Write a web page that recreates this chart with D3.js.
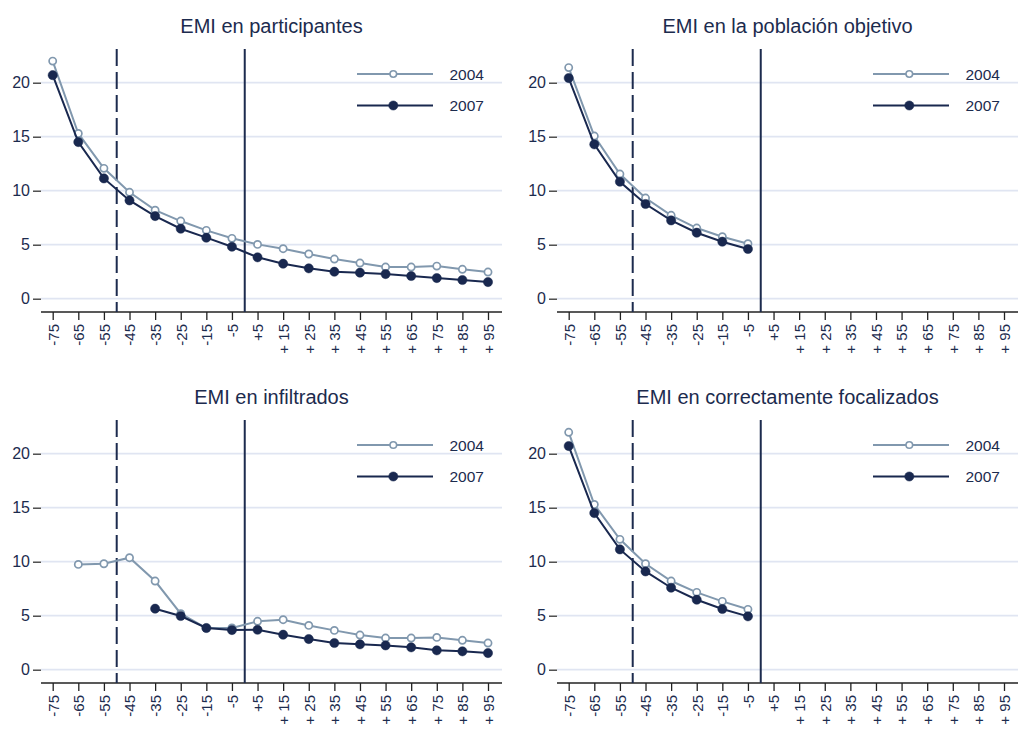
<!DOCTYPE html>
<html>
<head>
<meta charset="utf-8">
<script src="https://cdn.jsdelivr.net/npm/d3@7"></script>
<style>
  body { margin: 0; background: #fff; }
  svg { display: block; font-family: "Liberation Sans", Arial, sans-serif; }
</style>
</head>
<body>
<div class="chart"></div>
<script>
const WIDTH = 1018;
const HEIGHT = 742;

// x categories: distance to threshold
var offsets = [-75, -65, -55, -45, -35, -25, -15, -5, 5, 15, 25, 35, 45, 55, 65, 75, 85, 95];
var yTicks = [0, 5, 10, 15, 20];
var years = ["2004", "2007"];
var titles = ["EMI en participantes", "EMI en la población objetivo", "EMI en infiltrados", "EMI en correctamente focalizados"];
var cutDashed = -50;
var cutSolid = 0;

var part04 = [22.0, 15.3, 12.07, 9.85, 8.2, 7.19, 6.33, 5.59, 5.03, 4.63, 4.14, 3.67, 3.3, 2.93, 2.93, 3.02, 2.72, 2.47];
var part07 = [20.7, 14.5, 11.14, 9.1, 7.65, 6.48, 5.65, 4.81, 3.83, 3.24, 2.81, 2.5, 2.41, 2.28, 2.1, 1.91, 1.73, 1.54];
var pob04 = [21.4, 15.06, 11.54, 9.32, 7.72, 6.54, 5.74, 5.09];
var pob07 = [20.43, 14.29, 10.83, 8.77, 7.25, 6.11, 5.28, 4.6];
var inf04 = [null, 9.75, 9.81, 10.37, 8.21, 5.19, 3.86, 3.86, 4.48, 4.63, 4.1, 3.64, 3.21, 2.93, 2.93, 2.99, 2.72, 2.47];
var inf07 = [null, null, null, null, 5.65, 4.97, 3.86, 3.67, 3.7, 3.24, 2.84, 2.47, 2.35, 2.25, 2.07, 1.79, 1.7, 1.54];
var foc04 = [21.98, 15.3, 12.07, 9.81, 8.21, 7.16, 6.33, 5.59];
var foc07 = [20.71, 14.5, 11.14, 9.1, 7.59, 6.48, 5.62, 4.94];

var panels = [
    { title: titles[0], s04: part04, s07: part07, ox: 0, oy: 0 },
    { title: titles[1], s04: pob04, s07: pob07, ox: 516, oy: 0 },
    { title: titles[2], s04: inf04, s07: inf07, ox: 0, oy: 371 },
    { title: titles[3], s04: foc04, s07: foc07, ox: 516, oy: 371 }
];

var C04 = "#8198ae";
var C07 = "#19284f";
var NAVY = "#1c2b4e";
var GRID = "#e0e5f2";
var FONT = "'Liberation Sans', Arial, sans-serif";

var translate = function (x, y) {
    return "translate(" + x + "," + y + ")";
};

var tickLabel = function (d) {
    if (d < 0) return String(d);
    return d < 10 ? "+" + d : "+ " + d;
};

var svg = d3.select('.chart').append('svg')
    .attr('width', WIDTH)
    .attr('height', HEIGHT);

var drawPanel = function (p) {
    var g = svg.append("g").attr("transform", translate(p.ox, p.oy));

    var x = d3.scaleLinear().domain([-75, 95]).range([52.7, 488]);
    var y = d3.scaleLinear().domain([0, 20]).range([298.7, 82.7]);
    var left = 41, right = 502, top = 49, bottom = 312;

    // title
    g.append("text")
        .attr("x", (left + right) / 2)
        .attr("y", 33)
        .attr("text-anchor", "middle")
        .style("font-size", "20px")
        .style("fill", NAVY)
        .text(p.title);

    // gridlines
    g.selectAll(".grid").data(yTicks).enter().append("line")
        .attr("x1", left).attr("x2", right)
        .attr("y1", function (d) { return y(d); })
        .attr("y2", function (d) { return y(d); })
        .style("stroke", GRID).style("stroke-width", 1.8);

    // y axis (ticks only)
    var ya = g.append("g").attr("transform", translate(left, 0))
        .call(d3.axisLeft(y).tickValues(yTicks).tickSize(8).tickPadding(3));
    ya.select(".domain").remove();
    ya.selectAll(".tick line").style("stroke", "#333").style("stroke-width", 1.3);
    ya.selectAll(".tick text").style("font-size", "16px").style("fill", NAVY)
        .style("font-family", FONT);

    // x axis
    var xa = g.append("g").attr("transform", translate(0, bottom))
        .call(d3.axisBottom(x).tickValues(offsets).tickFormat(tickLabel).tickSize(8).tickSizeOuter(0));
    xa.select(".domain").attr("d", "M" + left + ",0H" + right)
        .style("stroke", "#222").style("stroke-width", 1.3);
    xa.selectAll(".tick line").style("stroke", "#222").style("stroke-width", 1.3);
    xa.selectAll(".tick text")
        .attr("transform", "rotate(-90)")
        .attr("x", -12).attr("y", 0).attr("dy", "0.36em")
        .attr("text-anchor", "end")
        .style("font-size", "15px").style("fill", NAVY)
        .style("font-family", FONT);

    // reference lines
    g.append("line")
        .attr("x1", x(cutDashed)).attr("x2", x(cutDashed))
        .attr("y1", top).attr("y2", bottom)
        .style("stroke", NAVY).style("stroke-width", 2)
        .style("stroke-dasharray", "17,6");
    g.append("line")
        .attr("x1", x(cutSolid)).attr("x2", x(cutSolid))
        .attr("y1", top).attr("y2", bottom)
        .style("stroke", NAVY).style("stroke-width", 2);

    var line = d3.line()
        .defined(function (d) { return d.v != null; })
        .x(function (d) { return x(d.k); })
        .y(function (d) { return y(d.v); });

    var series = [
        { vals: p.s04, color: C04, hollow: true },
        { vals: p.s07, color: C07, hollow: false }
    ];

    series.forEach(function (s) {
        var pts = offsets.map(function (k, i) {
            return { k: k, v: i < s.vals.length ? s.vals[i] : null };
        });
        g.append("path").datum(pts)
            .attr("d", line)
            .style("fill", "none")
            .style("stroke", s.color)
            .style("stroke-width", 2);
        g.selectAll(null).data(pts.filter(function (d) { return d.v != null; }))
            .enter().append("circle")
            .attr("cx", function (d) { return x(d.k); })
            .attr("cy", function (d) { return y(d.v); })
            .attr("r", s.hollow ? 3.6 : 4.6)
            .style("fill", s.hollow ? "#fff" : s.color)
            .style("stroke", s.color)
            .style("stroke-width", s.hollow ? 1.7 : 0.5);
    });

    // legend
    var lg = g.append("g");
    [{ y: 74, color: C04, hollow: true, label: years[0] },
     { y: 105.5, color: C07, hollow: false, label: years[1] }].forEach(function (d) {
        lg.append("line")
            .attr("x1", 357).attr("x2", 433)
            .attr("y1", d.y).attr("y2", d.y)
            .style("stroke", d.color).style("stroke-width", 2);
        lg.append("circle")
            .attr("cx", 393.3).attr("cy", d.y)
            .attr("r", d.hollow ? 3.3 : 4.6)
            .style("fill", d.hollow ? "#fff" : d.color)
            .style("stroke", d.color)
            .style("stroke-width", d.hollow ? 1.6 : 0.5);
        lg.append("text")
            .attr("x", 449.5).attr("y", d.y + 5.6)
            .style("font-size", "15.5px")
            .style("fill", NAVY)
            .text(d.label);
    });
};

panels.forEach(drawPanel);
</script>
</body>
</html>
